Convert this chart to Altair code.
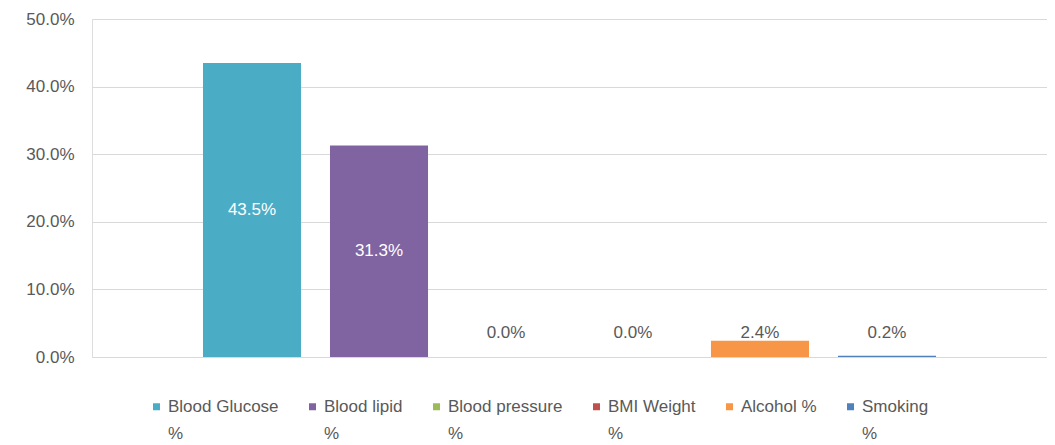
import altair as alt
import pandas as pd

# ---- data ----
series = ["Blood Glucose %", "Blood lipid %", "Blood pressure %",
          "BMI Weight %", "Alcohol %", "Smoking %"]
values = [0.435, 0.313, 0.0, 0.0, 0.024, 0.002]
colors = ["#4BACC6", "#8064A2", "#9BBB59", "#C0504D", "#F79646", "#4F81BD"]
y_ticks = [0.0, 0.1, 0.2, 0.3, 0.4, 0.5]

df = pd.DataFrame({"series": series, "value": values})

FONT = "Liberation Sans"
GRAY = "#595959"

x_enc = alt.X("series:N", sort=series, axis=None,
              scale=alt.Scale(paddingInner=0.228, paddingOuter=0.874))

base = alt.Chart(df).encode(x=x_enc)

bars = base.mark_bar().encode(
    y=alt.Y("value:Q",
            scale=alt.Scale(domain=[0, 0.5], nice=False),
            axis=alt.Axis(format=".1%", values=y_ticks, title=None,
                          domain=False, ticks=False, grid=True,
                          gridColor="#D9D9D9", gridWidth=1,
                          labelPadding=18, labelFont=FONT, labelFontSize=17,
                          labelColor=GRAY)),
    color=alt.Color("series:N", sort=series,
                    scale=alt.Scale(domain=series, range=colors),
                    legend=alt.Legend(
                        orient="none", legendX=56, legendY=379,
                        direction="horizontal", columns=6, title=None,
                        symbolType="square", symbolSize=49, symbolStrokeWidth=0,
                        labelFont=FONT, labelFontSize=17, labelColor=GRAY,
                        labelOffset=3, columnPadding=25, labelLimit=300,
                        labelBaseline="middle",
                        labelExpr="datum.label == 'Alcohol %' ? [datum.label, ''] : [replace(datum.label, ' %', ''), '%']",
                    )),
)

labels = base.transform_calculate(
    label_y="datum.value > 0.1 ? datum.value / 2 : max(datum.value, 0.035)",
    inside="datum.value > 0.1 ? 1 : 0",
).encode(
    y=alt.Y("label_y:Q"),
    text=alt.Text("value:Q", format=".1%"),
)

inside = labels.transform_filter("datum.inside == 1").mark_text(
    font=FONT, fontSize=17, color="white", baseline="middle", align="center")
outside = labels.transform_filter("datum.inside == 0").mark_text(
    font=FONT, fontSize=17, color=GRAY, baseline="middle", align="center")

chart = alt.layer(bars, inside, outside).properties(
    width=955, height=338,
    autosize=alt.AutoSizeParams(type="none"),
    padding={"left": 84, "top": 11, "right": 0, "bottom": 88},
).configure_view(strokeWidth=0).configure(
    style={"guide-label": {"lineHeight": 27}}
)

chart.save("out.html", embed_options={"renderer": "svg", "actions": False})
